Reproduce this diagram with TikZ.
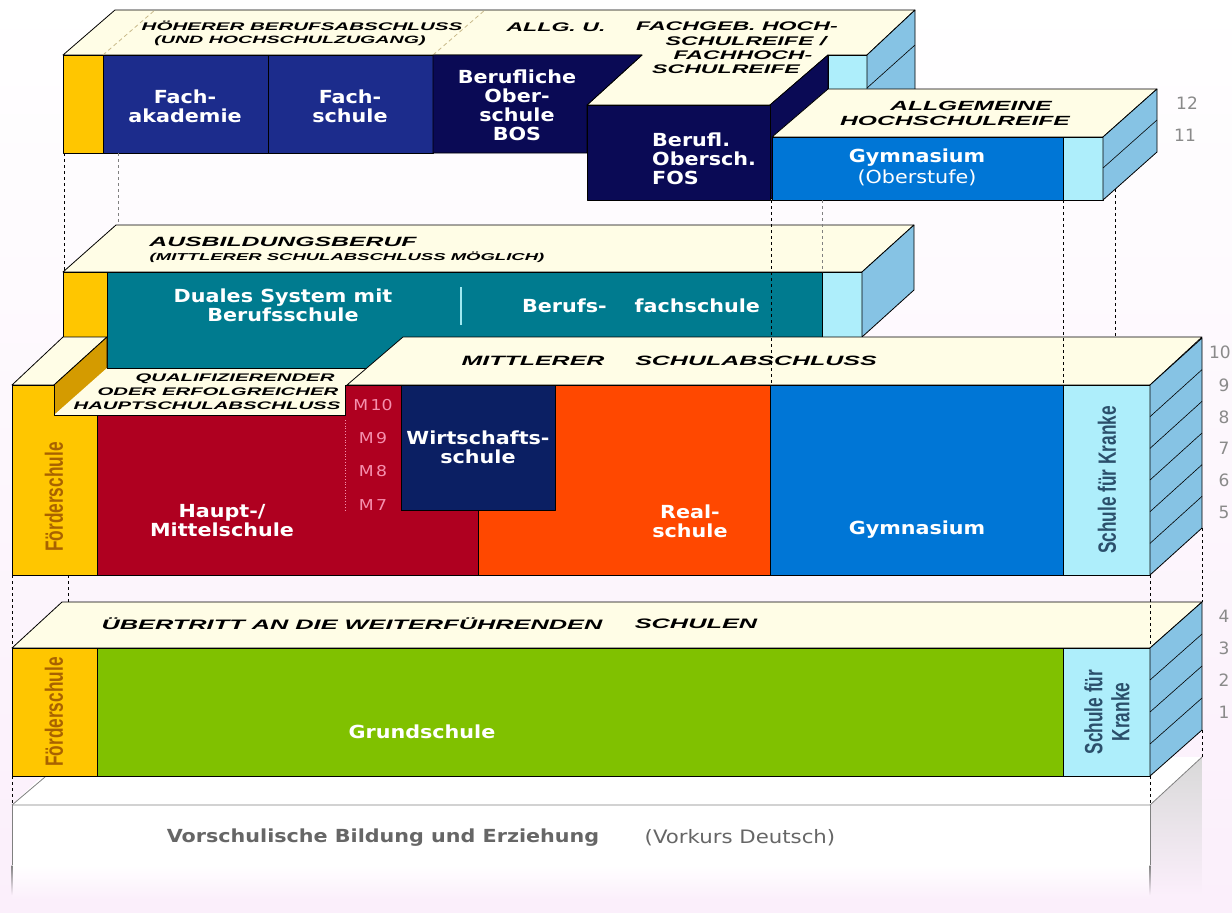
\documentclass[tikz,border=0pt]{standalone}
\usepackage{fontspec}
\newfontfamily\labfont[FakeStretch=1.15]{DejaVu Sans}
\newfontfamily\capfont[FakeStretch=1.85]{Liberation Sans}
\newfontfamily\vfont[FakeStretch=0.69]{Liberation Sans}
\newfontfamily\numfont{DejaVu Sans}
\definecolor{cBg}{HTML}{FBEFFB}
\definecolor{cCream}{HTML}{FFFDE6}
\definecolor{cYel}{HTML}{FFC600}
\definecolor{cDYel}{HTML}{D49B00}
\definecolor{cNavyA}{HTML}{1C2C8C}
\definecolor{cNavyB}{HTML}{0A0A55}
\definecolor{cTeal}{HTML}{007B8F}
\definecolor{cRed}{HTML}{AF0020}
\definecolor{cWirt}{HTML}{0B1F63}
\definecolor{cOra}{HTML}{FF4800}
\definecolor{cGym}{HTML}{0076D6}
\definecolor{cLBlue}{HTML}{AEEEFB}
\definecolor{cSide}{HTML}{86C3E4}
\definecolor{cGreen}{HTML}{80C100}
\definecolor{cFo}{HTML}{A86200}
\definecolor{cKr}{HTML}{2B4F6B}
\definecolor{cNum}{HTML}{8A8A8A}
\definecolor{cPink}{HTML}{F590AE}
\definecolor{cVor}{HTML}{666666}
\definecolor{cTan}{HTML}{C8B98A}
\definecolor{cCyan}{HTML}{9FE8F0}
\begin{document}
\begin{tikzpicture}[x=1pt,y=-1pt,line join=round,
  edge/.style={draw=black,line width=0.8pt},
  capt/.style={font=\capfont\bfseries\itshape\fontsize{#1}{#1}\selectfont,inner sep=0pt,text=black},
  lab/.style={font=\labfont\bfseries\fontsize{18}{19}\selectfont,text=white,align=center,inner sep=0pt},
  vlab/.style={font=\vfont\bfseries\fontsize{25}{27}\selectfont,rotate=90,align=center,inner sep=0pt},
  grade/.style={font=\numfont\fontsize{17}{17}\selectfont,text=cNum,inner sep=0pt},
  mlab/.style={font=\labfont\fontsize{15}{15}\selectfont,text=cPink,inner sep=0pt},
  conn/.style={draw=black,line width=0.8pt,dash pattern=on 3pt off 3pt},
  connl/.style={draw=gray,line width=0.8pt,dash pattern=on 3pt off 3pt}]
\useasboundingbox (0,0) rectangle (1232,913);
\shade[top color=white,bottom color=cBg] (0,0) rectangle (1232,913);

% ---------- Vorschule ----------
\shade[top color=gray!30,bottom color=cBg] (1150,805)--(1202,757)--(1202,895)--(1150,895)--cycle;
\fill[white] (12,805) rectangle (1150,865);
\shade[top color=white,bottom color=cBg] (12,865) rectangle (1150,900);
\fill[white] (12,805)--(62,757)--(1202,757)--(1150,805)--cycle;
\draw[gray,line width=0.8pt] (12,805)--(1150,805)--(1202,757);
\draw[gray,line width=0.8pt] (12,805)--(45,777);
\draw[gray,line width=0.8pt] (12,805)--(12,865);
\draw[gray,line width=0.8pt] (1150,805)--(1150,865);
\shade[top color=gray,bottom color=cBg] (11.6,865) rectangle (12.4,895);
\shade[top color=gray,bottom color=cBg] (1149.6,865) rectangle (1150.4,895);
\node[lab,text=cVor] (vs) at (383,838) {Vorschulische Bildung und Erziehung};
\node[font=\labfont\fontsize{18.5}{18.5}\selectfont,text=cVor,inner sep=0pt] (vk) at (740,838) {(Vorkurs Deutsch)};

% ---------- Grundschule ----------
\path[edge,fill=cCream] (12,648)--(62,602)--(1202,602)--(1150,648)--cycle;
\path[edge,fill=cYel] (12,648) rectangle (97,776);
\path[edge,fill=cGreen] (97,648) rectangle (1063,776);
\path[edge,fill=cLBlue] (1063,648) rectangle (1150,776);
\path[edge,fill=cSide] (1150,648)--(1202,602)--(1202,730)--(1150,776)--cycle;
\foreach \k in {1,2,3} \draw[line width=0.6pt] (1150,648+32*\k)--(1202,602+32*\k);
\node[capt=13.7] (ue1) at (352,624) {ÜBERTRITT AN DIE WEITERFÜHRENDEN};
\node[capt=13.7] (ue2) at (696,624) {SCHULEN};
\node[vlab,text=cFo] (f2) at (54,712) {Förderschule};
\node[lab] (gs) at (422,732) {Grundschule};
\node[vlab,text=cKr] (k2) at (1107,712) {Schule für\\Kranke};
\node[grade] (g4) at (1224,616) {4};
\node[grade] (g3) at (1224,648) {3};
\node[grade] (g2) at (1224,680) {2};
\node[grade] (g1) at (1224,712) {1};

% ---------- Ausbildungsberuf layer ----------
\path[edge,fill=cCream] (63,272)--(116,225)--(914,225)--(862,272)--cycle;
\path[edge,fill=cYel] (63,272) rectangle (107,337);
\path[edge,fill=cTeal] (107,272) rectangle (822,368);
\path[edge,fill=cLBlue] (822,272) rectangle (862,337);
\path[edge,fill=cSide] (862,272)--(914,225)--(914,290)--(862,337)--cycle;
\draw[cCyan,line width=1.2pt] (461,287)--(461,325);
\node[capt=13.4] (ab1) at (283,242) {AUSBILDUNGSBERUF};
\node[capt=10] (ab2) at (347,257) {(MITTLERER SCHULABSCHLUSS MÖGLICH)};
\node[lab] (du) at (283,305) {Duales System mit\\Berufsschule};
\node[lab] (bf) at (641,306) {Berufs-\hspace{28pt}fachschule};

% ---------- Mittlerer layer ----------
\path[edge,fill=cCream] (12,385)--(63,337)--(107,337)--(54,385)--cycle;
\path[edge,fill=cDYel] (54,385)--(107,337)--(107,370)--(54,417)--cycle;
\fill[cCream] (54,415)--(107,368)--(400,368)--(400,415)--cycle;
\draw[line width=0.8pt] (107,368)--(370,368);
\path[edge,fill=cCream] (347,385)--(403,337)--(1202,337)--(1150,385)--cycle;
\path[edge,fill=cYel] (12,385)--(54,385)--(54,415)--(97,415)--(97,575)--(12,575)--cycle;
\path[edge,fill=cRed] (97,415)--(345,415)--(345,385)--(401,385)--(401,510)--(478,510)--(478,575)--(97,575)--cycle;
\path[edge,fill=cWirt] (401,385) rectangle (555,510);
\path[edge,fill=cOra] (555,385)--(770,385)--(770,575)--(478,575)--(478,510)--(555,510)--cycle;
\path[edge,fill=cGym] (770,385) rectangle (1063,575);
\path[edge,fill=cLBlue] (1063,385) rectangle (1150,575);
\path[edge,fill=cSide] (1150,385)--(1202,338)--(1202,528)--(1150,575)--cycle;
\foreach \k in {1,...,5} \draw[line width=0.6pt] (1150,385+31.67*\k)--(1202,338+31.67*\k);
\draw[cPink,line width=0.8pt,dotted] (345,420)--(345,512);
\node[capt=11] (q1) at (235,379) {QUALIFIZIERENDER};
\node[capt=11] (q2) at (218,392) {ODER ERFOLGREICHER};
\node[capt=11] (q3) at (207,406) {HAUPTSCHULABSCHLUSS};
\node[capt=13.5] (mi1) at (533,361) {MITTLERER};
\node[capt=13.5] (mi2) at (756,361) {SCHULABSCHLUSS};
\node[mlab] (m10) at (373,405) {M\,10};
\node[mlab] (m9) at (373,438) {M\,9};
\node[mlab] (m8) at (373,471) {M\,8};
\node[mlab] (m7) at (373,505) {M\,7};
\node[lab] (ws) at (478,447) {Wirtschafts-\\schule};
\node[lab] (hm) at (222,521) {Haupt-/\\Mittelschule};
\node[lab] (rs) at (690,521) {Real-\\schule};
\node[lab] (gy) at (917,530) {Gymnasium};
\node[vlab,text=cKr] (k1) at (1107,480) {Schule für Kranke};
\node[vlab,text=cFo] (f1) at (54,497) {Förderschule};
\node[grade,anchor=east] (g10) at (1231,352) {10};
\node[grade] (g9) at (1224,385) {9};
\node[grade] (g8) at (1224,417) {8};
\node[grade] (g7) at (1224,448) {7};
\node[grade] (g6) at (1224,480) {6};
\node[grade] (g5) at (1224,512) {5};

% ---------- Top block ----------
\path[edge,fill=cCream] (63,55)--(115,10)--(915,10)--(867,55)--(828,55)--(770,105)--(587,105)--(642,55)--cycle;
\draw[cTan,line width=0.8pt,dash pattern=on 4pt off 3pt] (103,55)--(155,10);
\draw[cTan,line width=0.8pt,dash pattern=on 4pt off 3pt] (433,55)--(485,10);
\path[edge,fill=cYel] (63,55) rectangle (103,153);
\path[edge,fill=cNavyA] (103,55) rectangle (268,153);
\path[edge,fill=cNavyA] (268,55) rectangle (433,153);
\path[edge,fill=cNavyB] (433,55)--(642,55)--(587,105)--(587,153)--(433,153)--cycle;
\path[edge,fill=cNavyB] (770,105)--(828,55)--(828,150)--(770,200)--cycle;
\path[edge,fill=cNavyB] (587,105) rectangle (770,200);
\path[edge,fill=cLBlue] (828,55) rectangle (867,153);
\path[edge,fill=cSide] (867,55)--(915,10)--(915,108)--(867,153)--cycle;
\draw[line width=0.6pt] (867,88)--(915,45);
\node[capt=11.1] (hb) at (302,26) {HÖHERER BERUFSABSCHLUSS};
\node[capt=10.6] (uh) at (290,41) {(UND HOCHSCHULZUGANG)};
\node[capt=12.5] (al) at (556,27) {ALLG. U.};
\node[capt=12.5] (fg1) at (737,26) {FACHGEB. HOCH-};
\node[capt=12.5] (fg2) at (746,41) {SCHULREIFE /};
\node[capt=12.5] (fg3) at (743,55) {FACHHOCH-};
\node[capt=12.5] (fg4) at (726,69) {SCHULREIFE};
\node[lab] (fa) at (185,106) {Fach-\\akademie};
\node[lab] (fs) at (350,106) {Fach-\\schule};
\node[lab] (bos) at (517,105) {Berufliche\\Ober-\\schule\\BOS};
\node[lab,align=left,anchor=west] (fos) at (652,159) {Berufl.\\Obersch.\\FOS};

% ---------- Gymnasium Oberstufe ----------
\path[edge,fill=cCream] (772,137)--(828,89)--(1157,89)--(1103,137)--cycle;
\path[edge,fill=cGym] (772,137) rectangle (1063,200);
\path[edge,fill=cLBlue] (1063,137) rectangle (1103,200);
\path[edge,fill=cSide] (1103,137)--(1157,89)--(1157,152)--(1103,200)--cycle;
\draw[line width=0.6pt] (1103,168)--(1157,120);
\node[capt=13.3] (ag1) at (971,106) {ALLGEMEINE};
\node[capt=13.3] (ag2) at (955,121) {HOCHSCHULREIFE};
\node[lab] (go1) at (917,158) {Gymnasium};
\node[lab,font=\labfont\fontsize{18}{19}\selectfont] (go2) at (917,178) {(Oberstufe)};
\node[grade] (g12) at (1187,103) {12};
\node[grade] (g11) at (1185,135) {11};

% ---------- dashed connectors ----------
\draw[conn] (64,153)--(64,272);
\draw[connl] (118,153)--(118,225);
\draw[conn] (771,200)--(771,385);
\draw[connl] (822,200)--(822,272);
\draw[conn] (1063,200)--(1063,385);
\draw[conn] (1115,189)--(1115,338);
\draw[conn] (12,575)--(12,648);
\draw[conn] (68,575)--(68,602);
\draw[conn] (1150,575)--(1150,648);
\draw[conn] (1202,528)--(1202,602);
\draw[conn] (12,776)--(12,805);
\draw[conn] (1150,776)--(1150,805);
\draw[conn] (1202,730)--(1202,757);
\end{tikzpicture}
\end{document}
